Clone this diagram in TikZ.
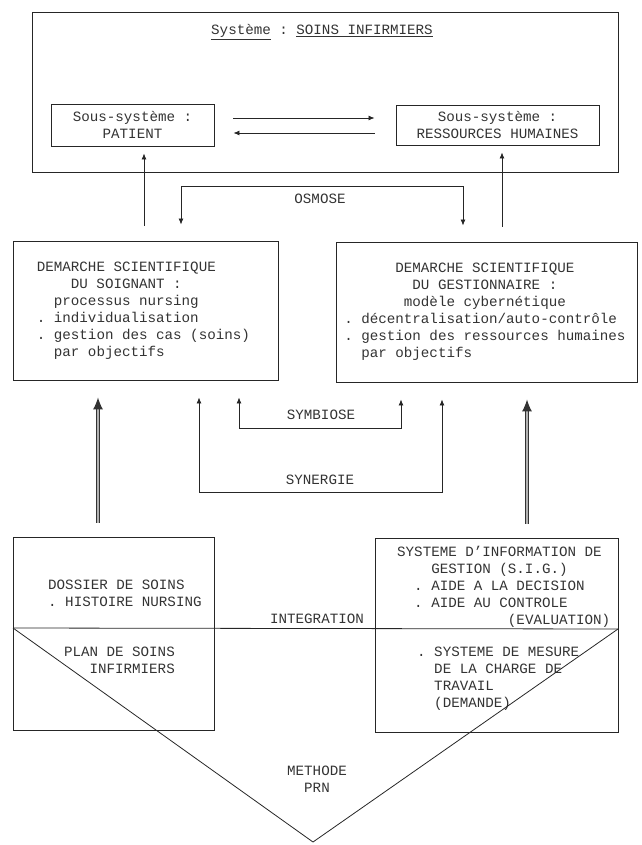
\documentclass[tikz,border=0pt]{standalone}
\usepackage{fontspec}
\setmainfont{Liberation Mono}
\usepackage{tikz}
\usetikzlibrary{arrows.meta, positioning, calc}

\newlength{\chw}
\setlength{\chw}{8.52pt}
\newcommand{\colsp}[1]{\hspace*{#1\chw}}

\begin{document}
\begin{tikzpicture}[
  x = 1pt, y = -1pt,
  font = \fontsize{14.2}{17}\selectfont,
  every node/.style = {text=black!80},
  execute at begin node = {\setlength{\parindent}{0pt}\spaceskip=\chw\relax\xspaceskip=\chw\relax},
  frame/.style = {draw=black!85, line width=0.9pt, inner sep=0pt},
  box/.style = {frame, align=left},
  txt/.style = {inner sep=0pt, align=left},
  line/.style = {draw=black!85, line width=0.8pt},
  arrow/.style = {line, -{Latex[length=6pt,width=5pt]}},
  twoway/.style = {line, {Latex[length=6pt,width=5pt]}-{Latex[length=6pt,width=5pt]}},
  bigarrow/.style = {-{Latex[length=12pt,width=10pt]}, draw=black!80, line width=1.1pt,
                     double=black!30, double distance=1.6pt},
]
\useasboundingbox (0,0) rectangle (641,845);

% systeme
\node[frame, minimum width=586pt, minimum height=160pt] (sys) at (325,92) {};
\node[txt] (title) at (322,32) {\underline{Système} : \underline{SOINS INFIRMIERS}};
\node[box, align=center, minimum width=163pt, minimum height=42pt] (pat) at (132.5,125)
  {Sous-système :\\PATIENT};
\node[box, align=center, minimum width=203pt, minimum height=40pt] (rh) at (497.5,125)
  {Sous-système :\\RESSOURCES HUMAINES};

% demarches
\node[box, text width=25.5\chw, minimum width=265pt, minimum height=139pt] (dsoi) at (145.5,310.5)
  {DEMARCHE SCIENTIFIQUE\\\colsp{4}DU SOIGNANT :\\\colsp{2}processus nursing\\. individualisation\\. gestion des cas (soins)\\\colsp{2}par objectifs};
\node[box, text width=33.5\chw, minimum width=301pt, minimum height=140pt] (dges) at (487,312)
  {\colsp{6}DEMARCHE SCIENTIFIQUE\\\colsp{8}DU GESTIONNAIRE :\\\colsp{7}modèle cybernétique\\. décentralisation/auto-contrôle\\. gestion des ressources humaines\\\colsp{2}par objectifs};

% outils
\node[frame, minimum width=201pt, minimum height=193pt] (dos) at (113.5,633.5) {};
\node[frame, minimum width=243pt, minimum height=194pt] (sig) at (496.5,635) {};
\node[txt, text width=18.5\chw, anchor=west] (dosT) at (48,593.5) {DOSSIER DE SOINS\\. HISTOIRE NURSING};
\node[txt, text width=13.5\chw, anchor=east, align=right] (plan) at (175,660) {PLAN DE SOINS\\INFIRMIERS};
\node[txt, text width=25.5\chw, anchor=west] (sigT) at (397,586.5)
  {SYSTEME D\symbol{39}INFORMATION DE\\\colsp{4}GESTION (S.I.G.)\\\colsp{2}. AIDE A LA DECISION\\\colsp{2}. AIDE AU CONTROLE\\\colsp{13}(EVALUATION)};
\node[txt, text width=19.5\chw, anchor=west] (mesure) at (417,678.5)
  {. SYSTEME DE MESURE\\\colsp{2}DE LA CHARGE DE\\\colsp{2}TRAVAIL\\\colsp{2}(DEMANDE)};

% labels
\node[txt] (osmose) at (320,199) {OSMOSE};
\node[txt] (symbiose) at (321,415) {SYMBIOSE};
\node[txt] (synergie) at (320,480) {SYNERGIE};
\node[txt] (integ) at (317,619) {INTEGRATION};
\node[txt, align=center] (prn) at (317,779) {METHODE\\PRN};

% integration + methode PRN
\coordinate (vL) at (13,628);
\coordinate (vR) at (618,629);
\coordinate (apex) at (313,842);
\draw[line] (vL) -- (vR);
\draw[line] (vL) -- (apex) -- (vR);

% connecteurs
\draw[arrow, shorten <=19pt, shorten >=21pt] ([yshift=7pt]pat.east) -- ([yshift=7pt]rh.west);
\draw[arrow, shorten <=21pt, shorten >=19pt] ([yshift=-8pt]rh.west) -- ([yshift=-8pt]pat.east);
\draw[arrow, shorten <=15pt, shorten >=7pt] ([xshift=11.5pt]pat.south |- dsoi.north) -- ([xshift=11.5pt]pat.south);
\draw[arrow, shorten <=15pt, shorten >=7pt] ([xshift=4.5pt]rh.south |- dges.north) -- ([xshift=4.5pt]rh.south);
\draw[twoway, shorten <=16pt, shorten >=16pt] ([xshift=35.5pt]dsoi.north) -- ++(0,-54) -| ([xshift=-24pt]dges.north);
\draw[twoway, shorten <=17pt, shorten >=17pt] ([xshift=93.5pt]dsoi.south) -- ++(0,48) -| ([xshift=-86pt]dges.south);
\draw[twoway, shorten <=17pt, shorten >=17pt] ([xshift=53.5pt]dsoi.south) -- ++(0,112) -| ([xshift=-45pt]dges.south);
\draw[bigarrow, shorten <=14pt, shorten >=17pt] ([xshift=-15.5pt]dos.north) -- ([xshift=-15.5pt]dos.north |- dsoi.south);
\draw[bigarrow, shorten <=14pt, shorten >=17pt] ([xshift=30.5pt]sig.north) -- ([xshift=30.5pt]sig.north |- dges.south);
\end{tikzpicture}
\end{document}
